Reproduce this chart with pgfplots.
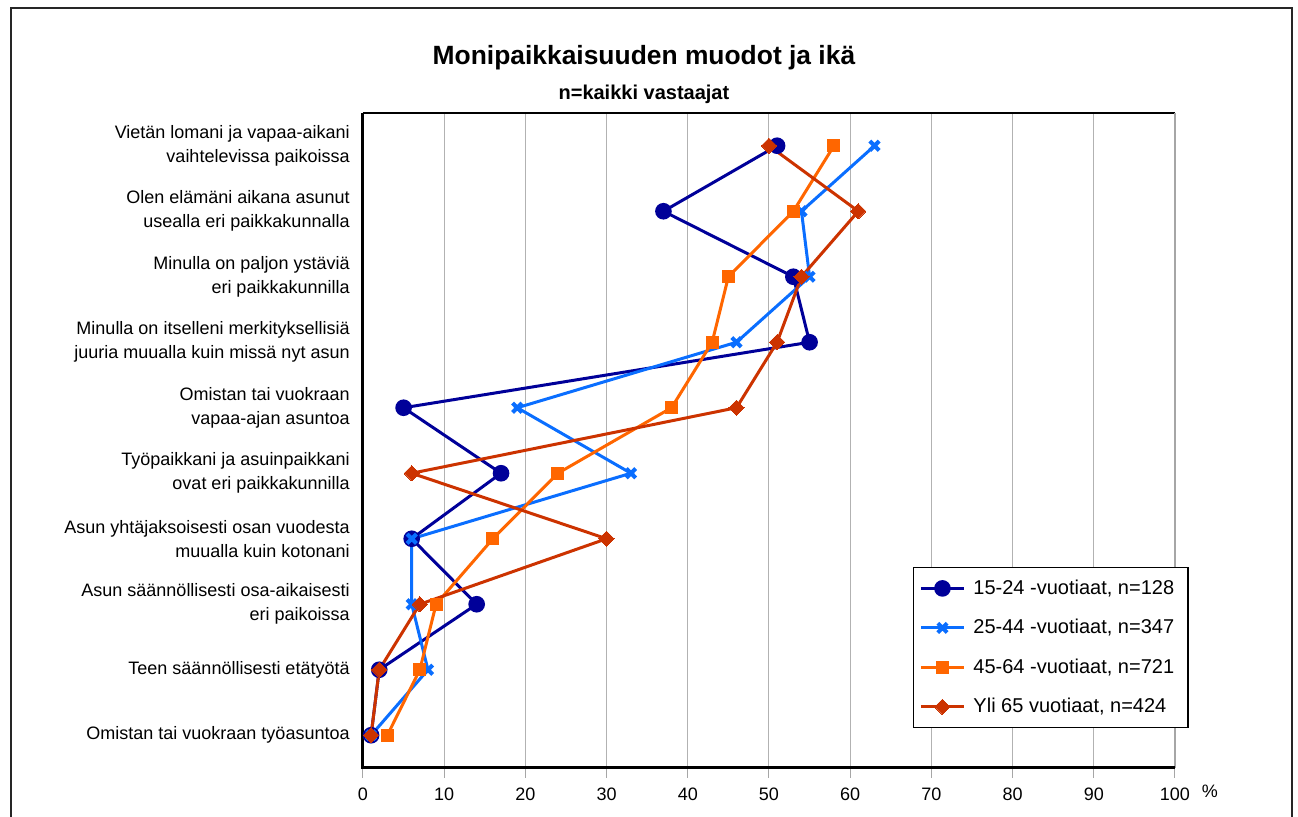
\documentclass[border=0pt]{standalone}
\usepackage{fontspec}
\setmainfont{Liberation Sans}
\usepackage{pgfplots}
\pgfplotsset{compat=1.18}
\definecolor{c1}{RGB}{0,0,153}
\definecolor{c2}{RGB}{10,110,255}
\definecolor{c3}{RGB}{255,102,0}
\definecolor{c4}{RGB}{204,51,0}

\begin{document}
\begin{tikzpicture}
% outer frame (bottom edge is cut off in the original)
\draw[line width=1pt, black!85] (-176pt,-40pt) -- (-176pt,380pt) -- (464.5pt,380pt) -- (464.5pt,-40pt);
\begin{axis}[
    scale only axis,
    width=406pt, height=327.5pt,
    clip=false,
    xmin=0, xmax=100,
    ymin=0.5, ymax=10.5,
    y dir=reverse,
    xtick={0,10,...,100},
    ytick={1,...,10},
    yticklabels={
      {Vietän lomani ja vapaa-aikani\\vaihtelevissa paikoissa},
      {Olen elämäni aikana asunut\\usealla eri paikkakunnalla},
      {Minulla on paljon ystäviä\\eri paikkakunnilla},
      {Minulla on itselleni merkityksellisiä\\juuria muualla kuin missä nyt asun},
      {Omistan tai vuokraan\\vapaa-ajan asuntoa},
      {Työpaikkani ja asuinpaikkani\\ovat eri paikkakunnilla},
      {Asun yhtäjaksoisesti osan vuodesta\\muualla kuin kotonani},
      {Asun säännöllisesti osa-aikaisesti\\eri paikoissa},
      {Teen säännöllisesti etätyötä},
      {Omistan tai vuokraan työasuntoa}},
    axis line style={draw=none},
    xmajorgrids,
    major grid style={gray!60, line width=0.5pt},
    tick align=outside,
    xtick pos=bottom, ytick pos=left,
    major tick length=5pt,
    xtick style={gray!70, line width=0.5pt},
    ytick style={draw=none},
    ticklabel style={font=\fontsize{9}{12}\selectfont},
    xticklabel style={yshift=-1.5pt},
    yticklabel style={align=right, inner sep=0pt, xshift=-1.5pt},
    /pgf/number format/assume math mode=true,
    legend cell align=left,
    legend style={at={(axis description cs:0.677,0.307)}, anchor=north west,
      draw=black, line width=0.75pt, fill=white,
      font=\fontsize{10}{12}\selectfont, row sep=7pt,
      inner xsep=3pt, inner ysep=4pt,
      nodes={inner xsep=4pt}},
    legend image code/.code={\draw[mark repeat=2,mark phase=2,#1]
      plot coordinates {(0pt,0pt) (10.75pt,0pt) (21.5pt,0pt)};},
    every axis plot/.append style={line width=1.5pt},
]
\addplot[color=c1, mark=*, mark size=3.4pt, mark options={solid, fill=c1}]
  coordinates {(51,1) (37,2) (53,3) (55,4) (5,5) (17,6) (6,7) (14,8) (2,9) (1,10)};
\addlegendentry{15-24 -vuotiaat, n=128}
\addplot[color=c2, mark=x, mark size=3.3pt, mark options={solid, line width=2pt}]
  coordinates {(63,1) (54,2) (55,3) (46,4) (19,5) (33,6) (6,7) (6,8) (8,9) (1,10)};
\addlegendentry{25-44 -vuotiaat, n=347}
\addplot[color=c3, mark=square*, mark size=3pt, mark options={solid, fill=c3, line width=0pt}]
  coordinates {(58,1) (53,2) (45,3) (43,4) (38,5) (24,6) (16,7) (9,8) (7,9) (3,10)};
\addlegendentry{45-64 -vuotiaat, n=721}
\addplot[color=c4, mark=square*, mark size=2.7pt, mark options={solid, fill=c4, line width=0pt, rotate=45}]
  coordinates {(50,1) (61,2) (54,3) (51,4) (46,5) (6,6) (30,7) (7,8) (2,9) (1,10)};
\addlegendentry{Yli 65 vuotiaat, n=424}

% plot area border
\draw[black, line width=1pt] (axis description cs:0,1) -- (axis description cs:1,1);
\draw[gray!70, line width=0.75pt] (axis description cs:1,1) -- (axis description cs:1,0);
\draw[black, line width=1.5pt] (axis description cs:0,1) -- (axis description cs:0,0) -- (axis description cs:1,0);

\node[anchor=base, font=\fontsize{9}{12}\selectfont] at (axis description cs:1.043,-0.0458) {\%};
\node[font=\bfseries\fontsize{13.2}{15}\selectfont] at (axis description cs:0.346,1.0840) {Monipaikkaisuuden muodot ja ikä};
\node[font=\bfseries\fontsize{10}{12}\selectfont] at (axis description cs:0.346,1.0290) {n=kaikki vastaajat};
\end{axis}
\pgfresetboundingbox
\path[use as bounding box] (-181.5pt,-24.5pt) rectangle (467.5pt,384pt);
\end{tikzpicture}
\end{document}
